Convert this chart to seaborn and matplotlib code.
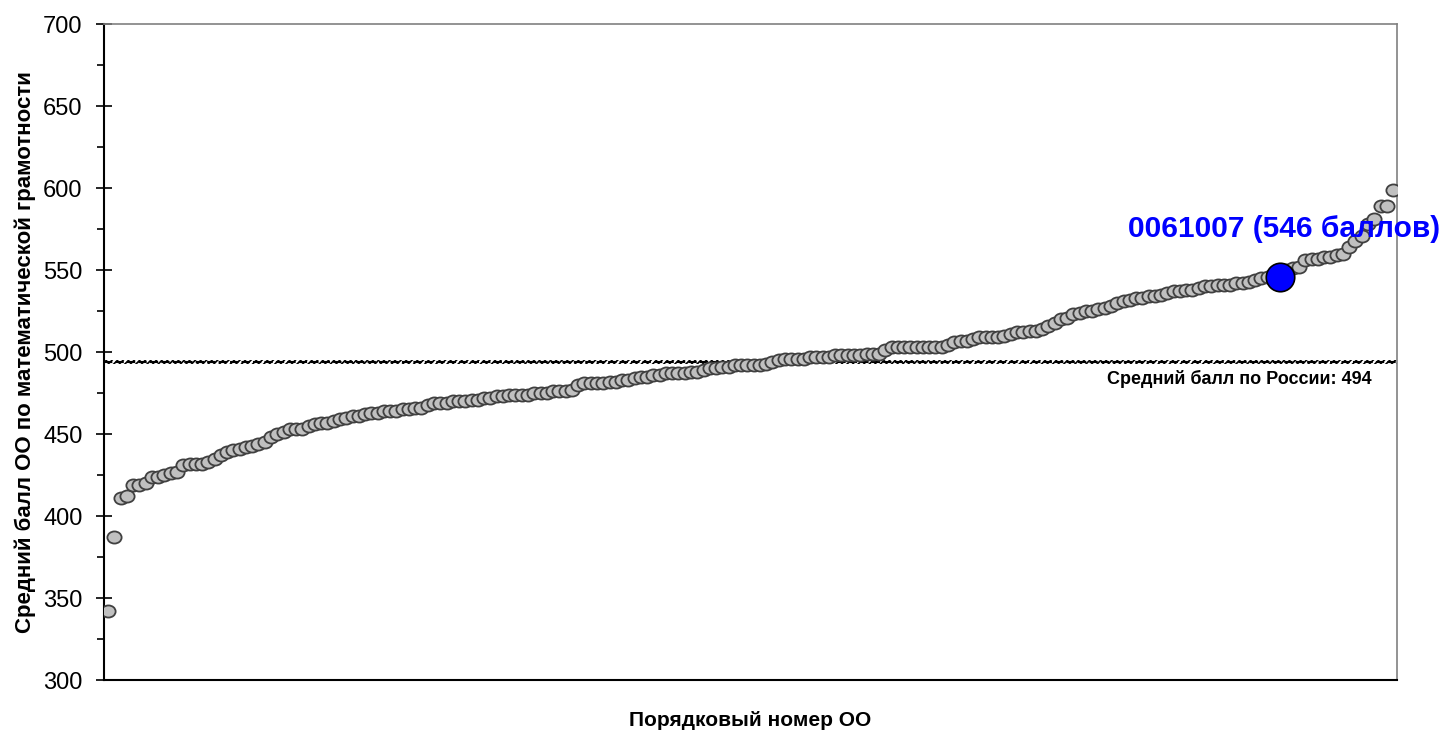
import numpy as np
import pandas as pd
import matplotlib
matplotlib.use('Agg')
import matplotlib.pyplot as plt
import seaborn as sns
from matplotlib.path import Path
from matplotlib.ticker import MultipleLocator

##############################################################
# Data
##############################################################
# average scores of schools (OO), sorted ascending
scores = [
    342, 387, 411, 412, 419, 419, 420, 424, 424, 425,
    426, 427, 431, 432, 432, 432, 433, 435, 437, 439,
    440, 441, 442, 443, 444, 445, 448, 450, 451, 453,
    453, 453, 455, 456, 457, 457, 458, 459, 460, 461,
    461, 462, 463, 463, 464, 464, 464, 465, 465, 466,
    466, 468, 469, 469, 469, 470, 470, 470, 471, 471,
    472, 472, 473, 473, 474, 474, 474, 474, 475, 475,
    475, 476, 476, 476, 477, 480, 481, 481, 481, 481,
    482, 482, 483, 483, 484, 485, 485, 486, 486, 487,
    487, 487, 487, 488, 488, 489, 490, 490, 491, 491,
    492, 492, 492, 492, 492, 493, 494, 495, 496, 496,
    496, 496, 497, 497, 497, 497, 498, 498, 498, 498,
    498, 499, 499, 499, 501, 503, 503, 503, 503, 503,
    503, 503, 503, 503, 504, 506, 507, 507, 508, 509,
    509, 509, 509, 510, 511, 512, 512, 513, 513, 514,
    516, 518, 520, 521, 523, 524, 525, 525, 526, 527,
    528, 530, 531, 532, 533, 533, 534, 534, 535, 536,
    537, 537, 538, 538, 539, 540, 540, 541, 541, 541,
    542, 542, 543, 544, 545, 546, 546, 546, 550, 551,
    552, 556, 557, 557, 558, 558, 559, 560, 564, 568,
    571, 578, 581, 589, 589, 599,
]
school_id = '0061007'
school_score = 546
school_rank = 187
russia_mean = 494

df = pd.DataFrame({'rank': np.arange(len(scores)), 'score': scores})
df_school = pd.DataFrame({'rank': [school_rank], 'score': [school_score]})

##############################################################
# Plotting
##############################################################
sns.set_theme(style='white')
plt.rcParams['font.family'] = ['Liberation Sans', 'DejaVu Sans']
plt.rcParams['hatch.linewidth'] = 1.2

# slightly flattened circle, like excel markers
circle = Path.unit_circle()
ellipse = Path(circle.vertices * np.array([1.0, 0.85]), circle.codes)

fig = plt.figure(figsize=(14.47, 7.35), dpi=100)
ax = fig.add_axes([0.0719, 0.0748, 0.8936, 0.8925])

# mean line: excel-like hatched dashed line
ax.axhspan(russia_mean - 1.0, russia_mean + 1.0, fill=False, hatch='//////',
           edgecolor='black', linewidth=0, zorder=1)
ax.axhline(russia_mean, color='black', lw=1.5, ls=(0, (4, 1.5)), zorder=1)

sns.scatterplot(data=df, x='rank', y='score', ax=ax, marker=ellipse, s=105,
                color='#c0c0c0', edgecolor='#404040', linewidth=1.3, zorder=3)
sns.scatterplot(data=df_school, x='rank', y='score', ax=ax, marker='o', s=420,
                color='#0000ff', edgecolor='black', linewidth=1.2, zorder=4)

ax.annotate(f'{school_id} ({school_score} баллов)', xy=(school_rank, school_score),
            xytext=(3, 34), textcoords='offset points', ha='center', va='center',
            fontsize=21.5, fontweight='bold', color='#0000ff', annotation_clip=False, zorder=5)
ax.annotate(f'Средний балл по России: {russia_mean}', xy=(0.98, russia_mean),
            xycoords=('axes fraction', 'data'), xytext=(0, -12), textcoords='offset points',
            ha='right', va='center', fontsize=13, fontweight='bold', color='black')

ax.set_xlim(-0.64, len(scores) - 1 + 0.64)
ax.set_ylim(300, 700)
ax.yaxis.set_major_locator(MultipleLocator(50))
ax.yaxis.set_minor_locator(MultipleLocator(25))
ax.tick_params(axis='y', which='major', direction='inout', length=11, width=1.2,
               labelsize=17, pad=10, left=True, color='black', labelcolor='black')
ax.tick_params(axis='y', which='minor', direction='out', length=5, width=1.2, left=True, color='black')
ax.set_xticks([])

for side in ['left', 'bottom']:
    ax.spines[side].set_color('black')
    ax.spines[side].set_linewidth(1.5)
for side in ['top', 'right']:
    ax.spines[side].set_color('#808080')
    ax.spines[side].set_linewidth(1.2)

ax.set_xlabel('Порядковый номер ОО', fontsize=15, fontweight='bold', labelpad=22, color='black')
ax.set_ylabel('Средний балл ОО по математической грамотности', fontsize=16,
              fontweight='bold', labelpad=5, color='black')

fig.savefig('out.png', dpi=100)
